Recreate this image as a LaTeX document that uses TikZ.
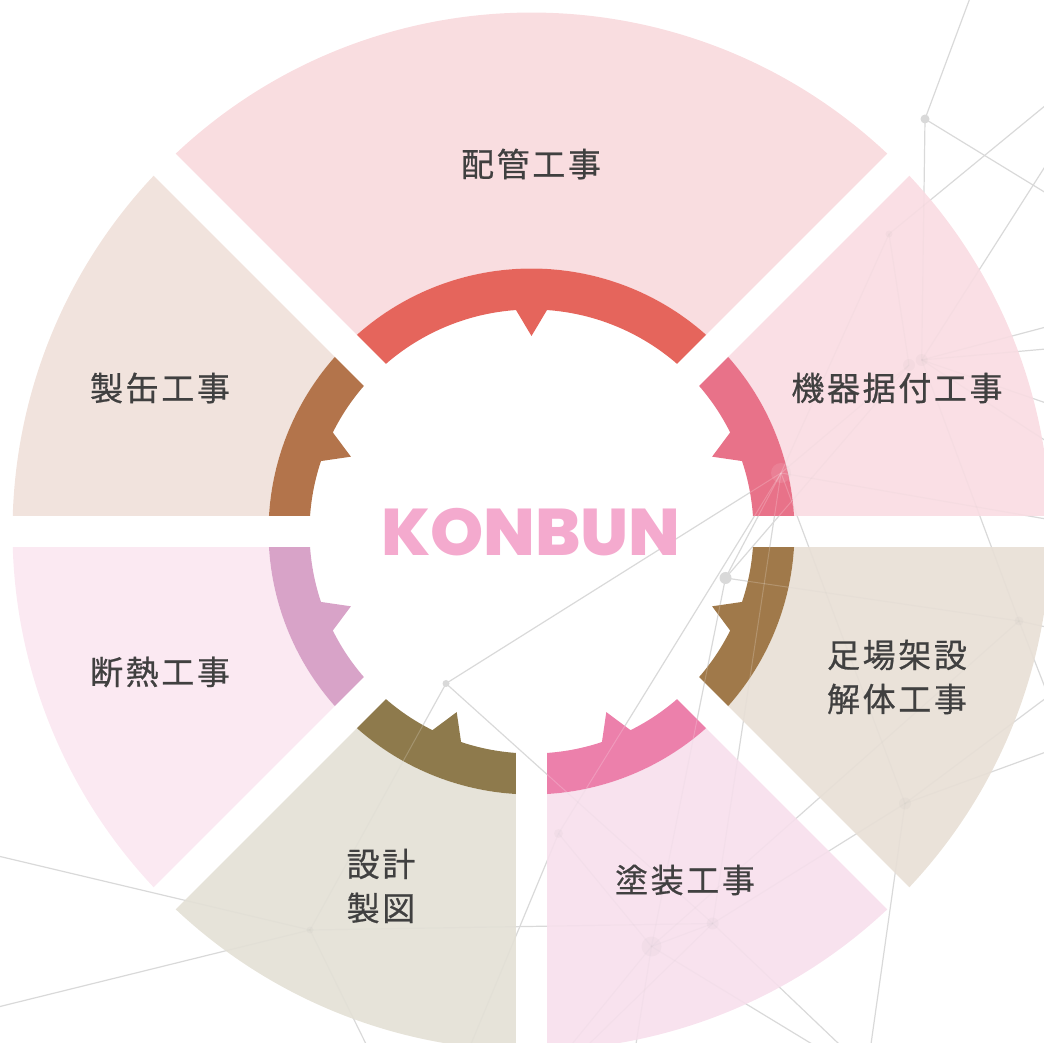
\documentclass[tikz,border=0pt]{standalone}
\usepackage{fontspec}
\newfontfamily\cjk[LetterSpace=8,FakeBold=0.6]{Noto Sans CJK JP}
\newfontfamily\logofont[BoldFont={Poppins ExtraBold}]{Poppins}
\definecolor{txt}{HTML}{404040}
\definecolor{logo}{HTML}{F4AACE}
\definecolor{netc}{HTML}{D9D9D9}
\definecolor{secA}{HTML}{F9DDE0}\definecolor{ringA}{HTML}{E5655C}
\definecolor{secB}{HTML}{FADFE5}\definecolor{ringB}{HTML}{E87289}
\definecolor{secC}{HTML}{EAE2D9}\definecolor{ringC}{HTML}{A0794A}
\definecolor{secD}{HTML}{F8E2EE}\definecolor{ringD}{HTML}{EC80AB}
\definecolor{secE}{HTML}{E6E3D9}\definecolor{ringE}{HTML}{8E7A4C}
\definecolor{secF}{HTML}{FBE9F2}\definecolor{ringF}{HTML}{D8A3C8}
\definecolor{secG}{HTML}{F1E3DD}\definecolor{ringG}{HTML}{B3744B}
\def\gapd{15.6}
\def\ringout{263}
\def\ringin{222}
\def\outr{519}
\def\tipr{195.5}
% a1 a2 rin rout : annular sector whose straight sides run parallel to the rays
\newcommand\secpath[4]{
  ({#1+asin(\gapd/#4)}:#4)
  arc[start angle={#1+asin(\gapd/#4)},end angle={#2-asin(\gapd/#4)},radius=#4]
  -- ({#2-asin(\gapd/#3)}:#3)
  arc[start angle={#2-asin(\gapd/#3)},end angle={#1+asin(\gapd/#3)},radius=#3]
  -- cycle }
% a1 a2 mid : ring segment with a tooth on its inner edge
\newcommand\ringpath[3]{
  ({#1+asin(\gapd/\ringout)}:\ringout)
  arc[start angle={#1+asin(\gapd/\ringout)},end angle={#2-asin(\gapd/\ringout)},radius=\ringout]
  -- ({#2-asin(\gapd/\ringin)}:\ringin)
  arc[start angle={#2-asin(\gapd/\ringin)},end angle={#3+4},radius=\ringin]
  -- (#3:\tipr) -- ({#3-4}:\ringin)
  arc[start angle={#3-4},end angle={#1+asin(\gapd/\ringin)},radius=\ringin]
  -- cycle }
\newcommand\netlines[1]{
  \foreach \a/\b in {N1/E1,N1/E2,N1/N4,N2/E3,N2/N3,N2/N5,N4/E4,N4/E5,N4/E6,N4/E7,N4/E8,N4/N6,
    N5/N3,N5/E9,N5/N8,N5/N9,N5/N7,N5/N10,N5/N11,N7/N3,N7/N6,N6/E10,N7/N12,N9/E11,N9/N12,
    N8/N10,N8/N13,N13/E12,N13/E13,N13/N10,N13/E14,N12/N10,N12/E15,N10/E16,N12/E17,N12/E18,
    N10/E19,N10/N11,N12/N6,N11/E20,N11/E21,N11/E22,N6/E23}
    {\draw[#1] (\a.center) -- (\b.center);}
}
\tikzset{
  netline/.style={draw=netc,line width=1.2pt},
  sectorline/.style={draw=gray!70,line width=1.2pt,opacity=.05},
  ringline/.style={draw=white,line width=1pt,opacity=.2},
  netdot/.style={circle,fill=netc,inner sep=0pt},
  label/.style={text=txt,font=\cjk\fontsize{33}{44}\selectfont,align=center,inner sep=0pt},
}
\begin{document}
\begin{tikzpicture}[x=1pt,y=1pt]
\useasboundingbox (0,0) rectangle (1044,1042);
\clip (0,0) rectangle (1044,1042);
% network (pixel coordinates, y down)
\begin{scope}[shift={(0,1042)},y=-1pt]
  \node[netdot,minimum size=9pt] (N1) at (925,119) {};
  \node[netdot,minimum size=7pt] (N2) at (889,234) {};
  \node[netdot,minimum size=12pt] (N3) at (909,365) {};
  \node[netdot,minimum size=12pt] (N4) at (921.7,360) {};
  \node[netdot,minimum size=20pt] (N5) at (781,473) {};
  \node[netdot,minimum size=9pt] (N6) at (1019,621) {};
  \node[netdot,minimum size=12pt] (N7) at (725.5,578) {};
  \node[netdot,minimum size=7pt] (N8) at (446,683.5) {};
  \node[netdot,minimum size=9pt] (N9) at (558.5,833.5) {};
  \node[netdot,minimum size=12pt] (N10) at (712.7,923.5) {};
  \node[netdot,minimum size=12pt] (N11) at (905,803.5) {};
  \node[netdot,minimum size=20pt] (N12) at (651.5,946.5) {};
  \node[netdot,minimum size=7pt] (N13) at (310,930) {};
  \coordinate (E1) at (970,-2);
  \coordinate (E2) at (1046,193);
  \coordinate (E3) at (1046,105);
  \coordinate (E4) at (1046,165);
  \coordinate (E5) at (1046,327);
  \coordinate (E6) at (1046,349);
  \coordinate (E7) at (1046,403);
  \coordinate (E8) at (1046,441);
  \coordinate (E9) at (1046,519);
  \coordinate (E10) at (1046,627);
  \coordinate (E11) at (471,1044);
  \coordinate (E12) at (-2,856);
  \coordinate (E13) at (-2,1007);
  \coordinate (E14) at (366,1044);
  \coordinate (E15) at (572,1044);
  \coordinate (E16) at (589,1044);
  \coordinate (E17) at (636,1044);
  \coordinate (E18) at (812,1044);
  \coordinate (E19) at (839,1044);
  \coordinate (E20) at (1046,698);
  \coordinate (E21) at (1046,752);
  \coordinate (E22) at (871,1044);
  \coordinate (E23) at (1046,690);
\end{scope}
\netlines{netline}
\begin{scope}[shift={(531.5,510.5)}]
  % pale sectors
  \fill[secA] \secpath{45}{135}{\ringout}{\outr};
  \fill[secB] \secpath{0}{45}{\ringout}{\outr};
  \fill[secC] \secpath{-45}{0}{\ringout}{\outr};
  \fill[secD] \secpath{-90}{-45}{\ringout}{\outr};
  \fill[secE] \secpath{-135}{-90}{\ringout}{\outr};
  \fill[secF] \secpath{180}{225}{\ringout}{\outr};
  \fill[secG] \secpath{135}{180}{\ringout}{\outr};
  % rings
  \fill[ringA] \ringpath{45}{135}{90};
  \fill[ringB] \ringpath{0}{45}{22.5};
  \fill[ringC] \ringpath{-45}{0}{-22.5};
  \fill[ringD] \ringpath{-90}{-45}{-67.5};
  \fill[ringE] \ringpath{-135}{-90}{-112.5};
  \fill[ringF] \ringpath{180}{225}{202.5};
  \fill[ringG] \ringpath{135}{180}{157.5};
\end{scope}
% faint network showing through the sectors
\begin{scope}[shift={(531.5,510.5)}]
  \clip \secpath{45}{135}{\ringout}{\outr} \secpath{0}{45}{\ringout}{\outr}
        \secpath{-45}{0}{\ringout}{\outr} \secpath{-90}{-45}{\ringout}{\outr}
        \secpath{-135}{-90}{\ringout}{\outr} \secpath{180}{225}{\ringout}{\outr}
        \secpath{135}{180}{\ringout}{\outr};
  \begin{scope}[shift={(-531.5,-510.5)}]
    \netlines{sectorline}
    \foreach \n/\r in {N2/3.5,N3/6,N4/6,N5/10,N6/4.5,N9/4.5,N10/6,N11/6,N12/10,N13/3.5}
      \fill[gray!70,opacity=.07] (\n.center) circle[radius=\r];
  \end{scope}
\end{scope}
% and lighter through the ring
\begin{scope}[shift={(531.5,510.5)}]
  \clip \ringpath{0}{45}{22.5} \ringpath{-45}{0}{-22.5} \ringpath{-90}{-45}{-67.5} \ringpath{-135}{-90}{-112.5};
  \begin{scope}[shift={(-531.5,-510.5)}]
    \netlines{ringline}
    \fill[white,opacity=.1] (N5.center) circle[radius=10];
  \end{scope}
\end{scope}
% texts
\begin{scope}[shift={(0,1042)},y=-1pt]
  \node[label] (t1) at (531,164) {配管工事};
  \node[label] (t2) at (897,388) {機器据付工事};
  \node[label] (t3) at (160,388) {製缶工事};
  \node[label] (t4) at (160,672) {断熱工事};
  \node[label] (t5) at (897,677) {足場架設\\解体工事};
  \node[label] (t6) at (685,880) {塗装工事};
  \node[label] (t7) at (381,886) {設計\\製図};
  \node[text=logo,inner sep=0pt,xscale=1.025,font=\logofont\bfseries\fontsize{66}{66}\selectfont] (logo) at (531,532.5) {KONBUN};
\end{scope}
\end{tikzpicture}
\end{document}
